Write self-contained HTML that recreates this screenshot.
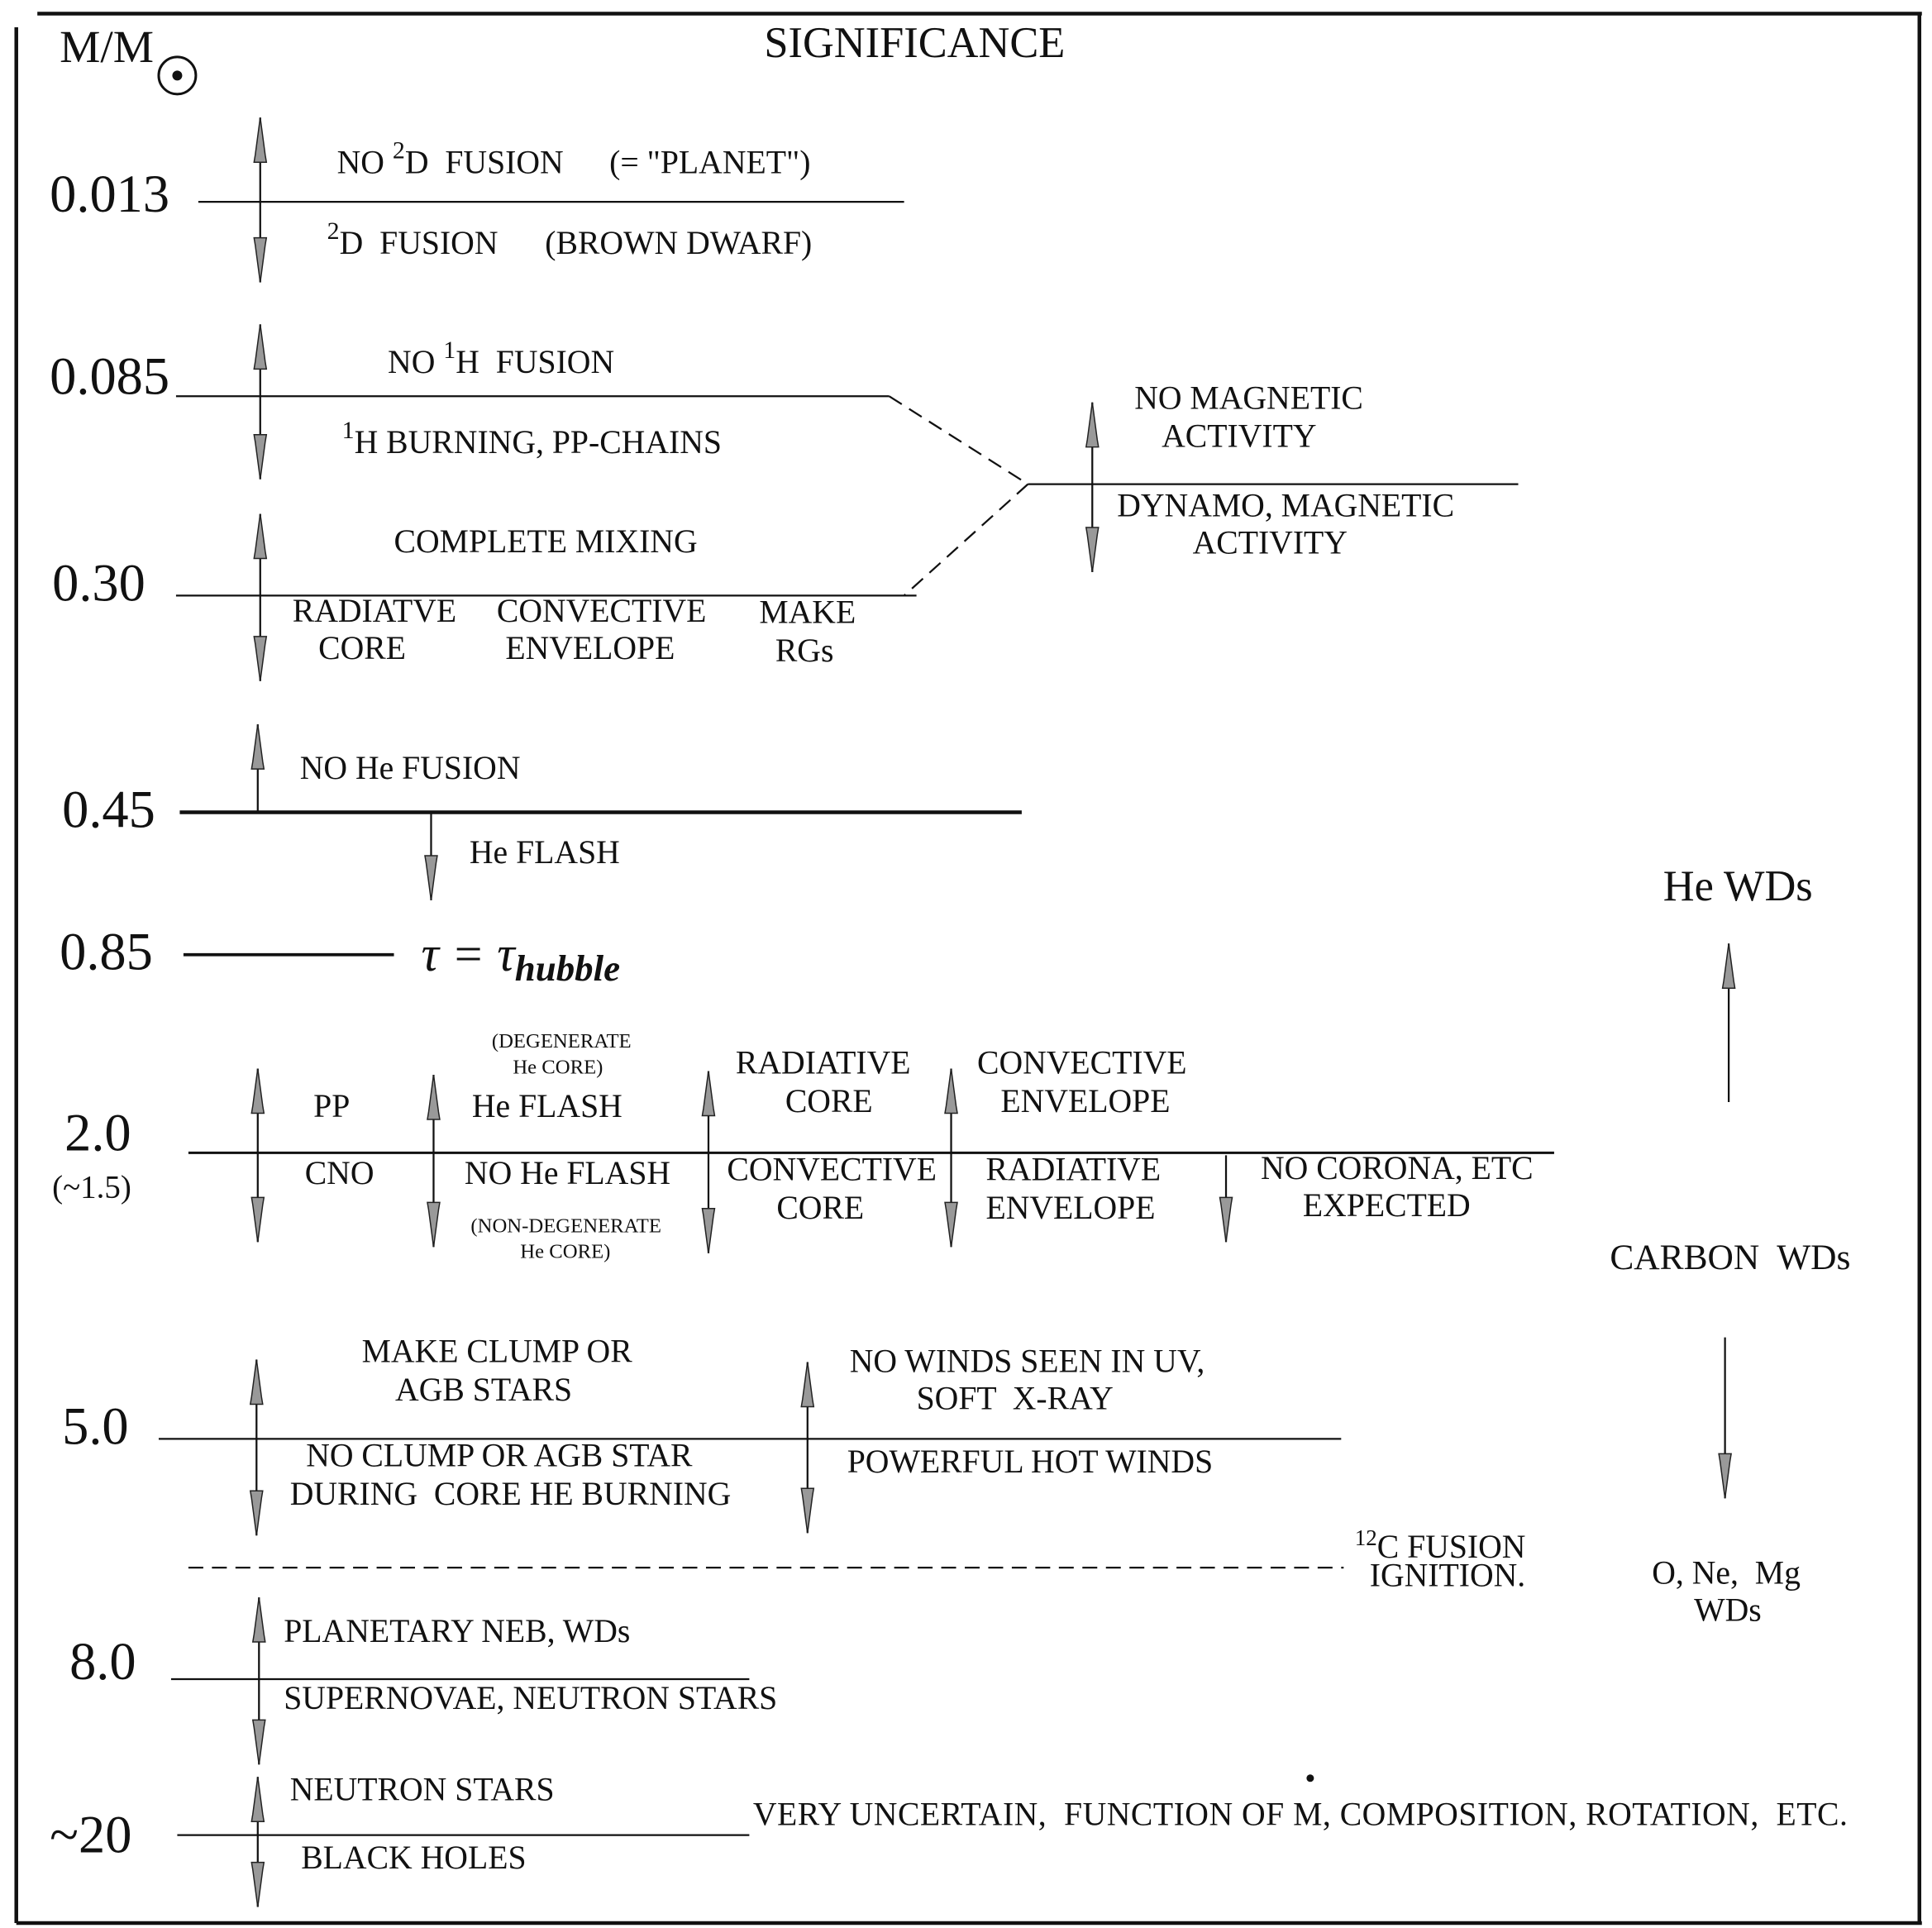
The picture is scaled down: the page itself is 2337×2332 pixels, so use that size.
<!DOCTYPE html>
<html><head><meta charset="utf-8"><style>
html,body{margin:0;padding:0;background:#fff;}
svg{display:block;}
text{font-family:"Liberation Serif",serif;fill:#111;white-space:pre;}
.l{font-size:26.5px;}
.n{font-size:43px;}
.s{font-size:16.5px;}
</style></head><body>
<svg width="2337" height="2332" viewBox="0 0 1560 1557" xmlns="http://www.w3.org/2000/svg" xml:space="preserve">
<defs>
<g id="up"><path d="M0,0 L-4,30 L-5,36 L5,36 L4,30 Z" fill="#999" stroke="#222" stroke-width="1"/></g>
<g id="dn"><path d="M0,0 L-4,-30 L-5,-36 L5,-36 L4,-30 Z" fill="#999" stroke="#222" stroke-width="1"/></g>
</defs>
<g stroke="#111" fill="none">
<line x1="30" y1="11" x2="1552" y2="11" stroke-width="3"/>
<line x1="13" y1="22" x2="13" y2="1553" stroke-width="3"/>
<line x1="1550" y1="11" x2="1550" y2="1553" stroke-width="3"/>
<line x1="13" y1="1553" x2="1552" y2="1553" stroke-width="3"/>
<g stroke-width="1.5">
<line x1="160" y1="163" x2="730" y2="163"/>
<line x1="142" y1="320" x2="718" y2="320"/>
<line x1="830" y1="391" x2="1226" y2="391"/>
<line x1="142" y1="481" x2="740" y2="481"/>
<line x1="148" y1="771" x2="318" y2="771" stroke-width="2.5"/>
<line x1="152" y1="931" x2="1255" y2="931" stroke-width="2"/>
<line x1="128" y1="1162" x2="1083" y2="1162"/>
<line x1="138" y1="1356" x2="605" y2="1356"/>
<line x1="143" y1="1482" x2="605" y2="1482"/>
</g>
<line x1="145" y1="656" x2="825" y2="656" stroke-width="3"/>
<g stroke-width="1.5" stroke-dasharray="12,7">
<line x1="718" y1="320" x2="830" y2="391"/>
<line x1="830" y1="391" x2="730" y2="481"/>
<line x1="152" y1="1266" x2="1085" y2="1266"/>
</g>
<g stroke-width="1.5">
<line x1="210" y1="95" x2="210" y2="228"/>
<line x1="210" y1="262" x2="210" y2="387"/>
<line x1="210" y1="415" x2="210" y2="550"/>
<line x1="208" y1="585" x2="208" y2="656"/>
<line x1="348" y1="657" x2="348" y2="727"/>
<line x1="882" y1="325" x2="882" y2="462"/>
<line x1="208" y1="863" x2="208" y2="1003"/>
<line x1="350" y1="868" x2="350" y2="1007"/>
<line x1="572" y1="865" x2="572" y2="1012"/>
<line x1="768" y1="863" x2="768" y2="1007"/>
<line x1="990" y1="933" x2="990" y2="1003"/>
<line x1="207" y1="1098" x2="207" y2="1240"/>
<line x1="652" y1="1100" x2="652" y2="1238"/>
<line x1="1396" y1="762" x2="1396" y2="890"/>
<line x1="1393" y1="1080" x2="1393" y2="1210"/>
<line x1="209" y1="1290" x2="209" y2="1425"/>
<line x1="208" y1="1435" x2="208" y2="1540"/>
</g>
</g>
<use href="#up" x="210" y="95"/><use href="#dn" x="210" y="228"/>
<use href="#up" x="210" y="262"/><use href="#dn" x="210" y="387"/>
<use href="#up" x="210" y="415"/><use href="#dn" x="210" y="550"/>
<use href="#up" x="208" y="585"/>
<use href="#dn" x="348" y="727"/>
<use href="#up" x="882" y="325"/><use href="#dn" x="882" y="462"/>
<use href="#up" x="208" y="863"/><use href="#dn" x="208" y="1003"/>
<use href="#up" x="350" y="868"/><use href="#dn" x="350" y="1007"/>
<use href="#up" x="572" y="865"/><use href="#dn" x="572" y="1012"/>
<use href="#up" x="768" y="863"/><use href="#dn" x="768" y="1007"/>
<use href="#dn" x="990" y="1003"/>
<use href="#up" x="207" y="1098"/><use href="#dn" x="207" y="1240"/>
<use href="#up" x="652" y="1100"/><use href="#dn" x="652" y="1238"/>
<use href="#up" x="1396" y="762"/><use href="#dn" x="1393" y="1210"/>
<use href="#up" x="209" y="1290"/><use href="#dn" x="209" y="1425"/>
<use href="#up" x="208" y="1435"/><use href="#dn" x="208" y="1540"/>

<text x="48" y="50" style="font-size:37px">M/M</text>
<circle cx="143" cy="61" r="15" fill="none" stroke="#111" stroke-width="2"/>
<circle cx="143" cy="61" r="4" fill="#111"/>
<text x="617" y="46" style="font-size:35px">SIGNIFICANCE</text>

<text class="n" x="40" y="171">0.013</text>
<text class="n" x="40" y="318">0.085</text>
<text class="n" x="42" y="485">0.30</text>
<text class="n" x="50" y="668">0.45</text>
<text class="n" x="48" y="783">0.85</text>
<text class="n" x="52" y="929">2.0</text>
<text x="42" y="967" style="font-size:26px">(~1.5)</text>
<text class="n" x="50" y="1166">5.0</text>
<text class="n" x="56" y="1356">8.0</text>
<text class="n" x="40" y="1496">~20</text>

<text class="l" x="272" y="140">NO <tspan dy="-12" style="font-size:20px">2</tspan><tspan dy="12">D  FUSION</tspan></text>
<text class="l" x="492" y="140">(= "PLANET")</text>
<text class="l" x="264" y="205"><tspan dy="-12" style="font-size:20px">2</tspan><tspan dy="12">D  FUSION</tspan></text>
<text class="l" x="440" y="205">(BROWN DWARF)</text>
<text class="l" x="313" y="301">NO <tspan dy="-12" style="font-size:20px">1</tspan><tspan dy="12">H  FUSION</tspan></text>
<text class="l" x="276" y="366"><tspan dy="-12" style="font-size:20px">1</tspan><tspan dy="12">H BURNING, PP-CHAINS</tspan></text>
<text class="l" x="318" y="446">COMPLETE MIXING</text>
<text class="l" x="236" y="502">RADIATVE</text><text class="l" x="257" y="532">CORE</text>
<text class="l" x="401" y="502">CONVECTIVE</text><text class="l" x="408" y="532">ENVELOPE</text>
<text class="l" x="613" y="503">MAKE</text><text class="l" x="626" y="534">RGs</text>
<text class="l" x="916" y="330">NO MAGNETIC</text><text class="l" x="938" y="361">ACTIVITY</text>
<text class="l" x="902" y="417">DYNAMO, MAGNETIC</text><text class="l" x="963" y="447">ACTIVITY</text>
<text class="l" x="242" y="629">NO He FUSION</text>
<text class="l" x="379" y="697">He FLASH</text>
<text x="340" y="784" style="font-size:40px;font-style:italic">τ = τ<tspan dy="8" style="font-size:30px;font-weight:bold">hubble</tspan></text>
<text class="s" x="397" y="846">(DEGENERATE</text><text class="s" x="414" y="867">He CORE)</text>
<text class="l" x="253" y="902">PP</text>
<text class="l" x="381" y="902">He FLASH</text>
<text class="l" x="594" y="867">RADIATIVE</text><text class="l" x="634" y="898">CORE</text>
<text class="l" x="789" y="867">CONVECTIVE</text><text class="l" x="808" y="898">ENVELOPE</text>
<text class="l" x="246" y="956">CNO</text>
<text class="l" x="375" y="956">NO He FLASH</text>
<text class="s" x="380" y="995">(NON-DEGENERATE</text><text class="s" x="420" y="1016">He CORE)</text>
<text class="l" x="587" y="953">CONVECTIVE</text><text class="l" x="627" y="984">CORE</text>
<text class="l" x="796" y="953">RADIATIVE</text><text class="l" x="796" y="984">ENVELOPE</text>
<text class="l" x="1018" y="952">NO CORONA, ETC</text><text class="l" x="1052" y="982">EXPECTED</text>
<text x="1343" y="727" style="font-size:35px">He WDs</text>
<text x="1300" y="1025" style="font-size:29px">CARBON  WDs</text>
<text class="l" x="292" y="1100">MAKE CLUMP OR</text><text class="l" x="319" y="1131">AGB STARS</text>
<text class="l" x="686" y="1108">NO WINDS SEEN IN UV,</text><text class="l" x="740" y="1138">SOFT  X-RAY</text>
<text class="l" x="247" y="1184">NO CLUMP OR AGB STAR</text><text class="l" x="234" y="1215">DURING  CORE HE BURNING</text>
<text class="l" x="684" y="1189">POWERFUL HOT WINDS</text>
<text class="l" x="1094" y="1258"><tspan dy="-10" style="font-size:18px">12</tspan><tspan dy="10">C FUSION</tspan></text>
<text class="l" x="1106" y="1281">IGNITION.</text>
<text class="l" x="1334" y="1279">O, Ne,  Mg</text><text class="l" x="1368" y="1309">WDs</text>
<text class="l" x="229" y="1326">PLANETARY NEB, WDs</text>
<text class="l" x="229" y="1380">SUPERNOVAE, NEUTRON STARS</text>
<text class="l" x="234" y="1454">NEUTRON STARS</text>
<text class="l" x="243" y="1509">BLACK HOLES</text>
<text class="l" x="608" y="1474" textLength="884" lengthAdjust="spacing">VERY UNCERTAIN,  FUNCTION OF M, COMPOSITION, ROTATION,  ETC.</text>
<circle cx="1058" cy="1436" r="3" fill="#111"/>
</svg>
</body></html>
